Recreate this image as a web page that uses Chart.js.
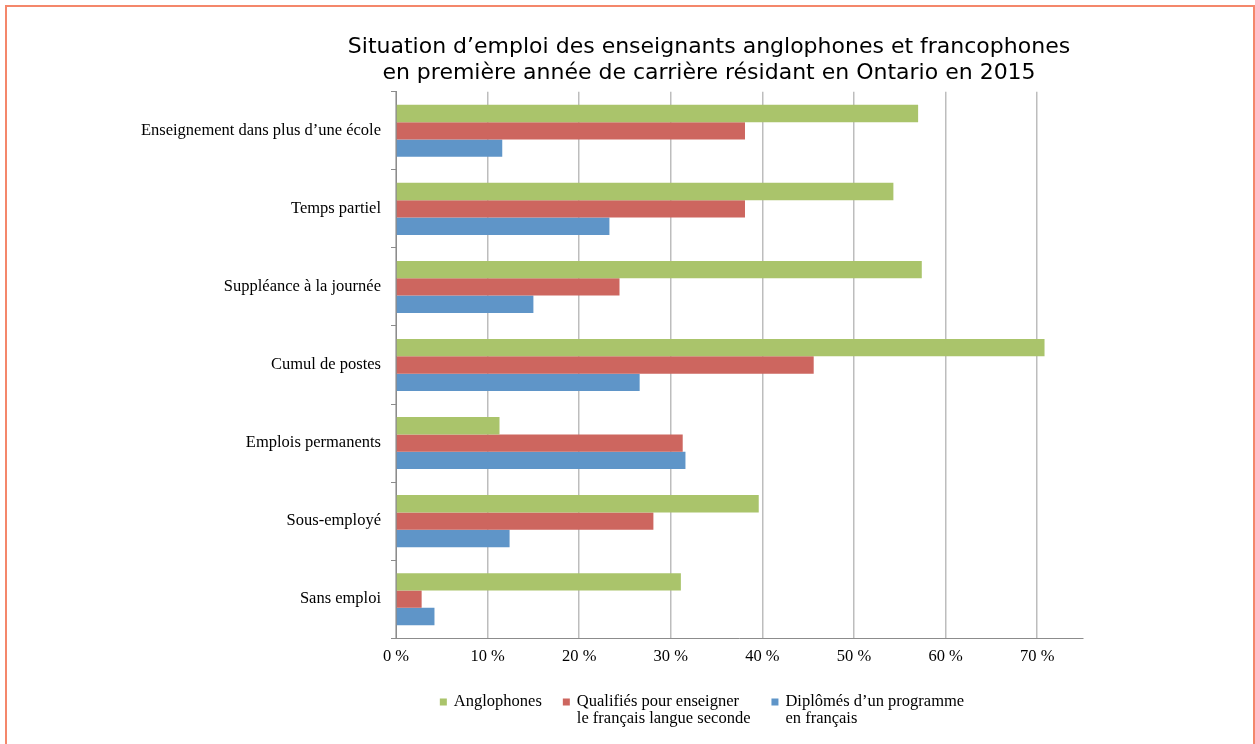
<!DOCTYPE html>
<html>
<head>
<meta charset="utf-8">
<script src="https://cdn.jsdelivr.net/npm/chart.js@4.4.1/dist/chart.umd.min.js"></script>
<style>
    html, body { margin: 0; padding: 0; background: #fff; overflow: hidden; }
    #frame {
        position: absolute; left: 5px; top: 5px;
        width: 1246px; height: 800px;
        border: 2px solid #f4876b; border-bottom: none;
    }
    #chart { position: absolute; left: 0; top: 0; }
</style>
</head>
<body>
<div id="frame"></div>
<canvas id="chart" width="1255" height="744"></canvas>
<script>
// categories, top to bottom
var categories = [
    'Enseignement dans plus d\u2019une \u00e9cole',
    'Temps partiel',
    'Suppl\u00e9ance \u00e0 la journ\u00e9e',
    'Cumul de postes',
    'Emplois permanents',
    'Sous-employ\u00e9',
    'Sans emploi'
];

// values in %
var anglophones = [57.0, 54.3, 57.4, 70.8, 11.3, 39.6, 31.1];
var qualifies = [38.1, 38.1, 24.4, 45.6, 31.3, 28.1, 2.8];
var diplomes = [11.6, 23.3, 15.0, 26.6, 31.6, 12.4, 4.2];

var seriesNames = [
    ['Anglophones'],
    ['Qualifi\u00e9s pour enseigner', 'le fran\u00e7ais langue seconde'],
    ['Dipl\u00f4m\u00e9s d\u2019un programme', 'en fran\u00e7ais']
];
var seriesColors = ['#aac46b', '#cd665f', '#5f95c8'];

var xTickLabels = ['0 %', '10 %', '20 %', '30 %', '40 %', '50 %', '60 %', '70 %'];

var titleLines = [
    'Situation d\u2019emploi des enseignants anglophones et francophones',
    'en premi\u00e8re ann\u00e9e de carri\u00e8re r\u00e9sidant en Ontario en 2015'
];

var serif = 'Liberation Serif';

// legend drawn under the axis, multi-line entries like the original
var bottomLegend = {
    id: 'bottomLegend',
    afterDraw: function (chart, args, opts) {
        var c = chart.ctx;
        var sets = chart.data.datasets;
        c.save();
        c.font = opts.fontSize + 'px "' + serif + '"';
        c.textBaseline = 'middle';
        c.textAlign = 'left';
        var widths = sets.map(function (ds) {
            var w = 0;
            ds.label.forEach(function (line) { w = Math.max(w, c.measureText(line).width); });
            return opts.textOffset + w;
        });
        var total = widths.reduce(function (a, b) { return a + b; }, 0) + opts.gap * (sets.length - 1);
        var x = opts.centerX - total / 2;
        sets.forEach(function (ds, i) {
            c.fillStyle = ds.backgroundColor;
            c.fillRect(x, opts.y - opts.box / 2, opts.box, opts.box);
            c.fillStyle = '#000';
            ds.label.forEach(function (line, j) {
                c.fillText(line, x + opts.textOffset, opts.y + j * opts.lineHeight);
            });
            x += widths[i] + opts.gap;
        });
        c.restore();
    }
};

var ctx = document.getElementById('chart').getContext('2d');
var myChart = new Chart(ctx, {
    type: 'bar',
    data: {
        labels: categories,
        datasets: [
            { label: seriesNames[0], data: anglophones, backgroundColor: seriesColors[0] },
            { label: seriesNames[1], data: qualifies, backgroundColor: seriesColors[1] },
            { label: seriesNames[2], data: diplomes, backgroundColor: seriesColors[2] }
        ]
    },
    plugins: [bottomLegend],
    options: {
        indexAxis: 'y',
        responsive: false,
        animation: false,
        datasets: {
            bar: { categoryPercentage: 0.667, barPercentage: 1.0, borderWidth: 0 }
        },
        layout: {
            padding: { top: 10, left: 335, right: 172, bottom: 61 }
        },
        scales: {
            x: {
                min: 0,
                max: 75,
                afterBuildTicks: function (scale) {
                    scale.ticks = scale.ticks.filter(function (t) { return t.value <= 70; });
                },
                afterFit: function (scale) {
                    scale.height += 7;
                },
                ticks: {
                    stepSize: 10,
                    padding: 9,
                    color: '#000',
                    font: { family: serif, size: 16.5 },
                    callback: function (value, index) {
                        return xTickLabels[index];
                    }
                },
                grid: {
                    color: '#bdbdbd',
                    lineWidth: 1.5,
                    drawTicks: false
                },
                border: { color: '#8c8c8c', width: 1 }
            },
            y: {
                afterFit: function (scale) {
                    scale.width = 396 - 335;
                    // long labels reach left of the padding: do not clip them
                    scale._computeLabelArea = function () { return null; };
                },
                ticks: {
                    padding: 10,
                    color: '#000',
                    font: { family: serif, size: 16.5 }
                },
                grid: {
                    drawOnChartArea: false,
                    tickLength: 5,
                    color: '#8c8c8c'
                },
                border: { color: '#8c8c8c', width: 1 }
            }
        },
        plugins: {
            title: {
                display: true,
                text: titleLines,
                color: '#000',
                font: { family: 'DejaVu Sans', size: 22, weight: 'normal', lineHeight: 1.2 },
                padding: { top: 24, bottom: 5 }
            },
            legend: { display: false },
            tooltip: { enabled: false },
            bottomLegend: {
                centerX: 702,
                y: 702,
                box: 7,
                textOffset: 14,
                gap: 21,
                lineHeight: 17,
                fontSize: 16.5
            }
        }
    }
});
</script>
</body>
</html>
